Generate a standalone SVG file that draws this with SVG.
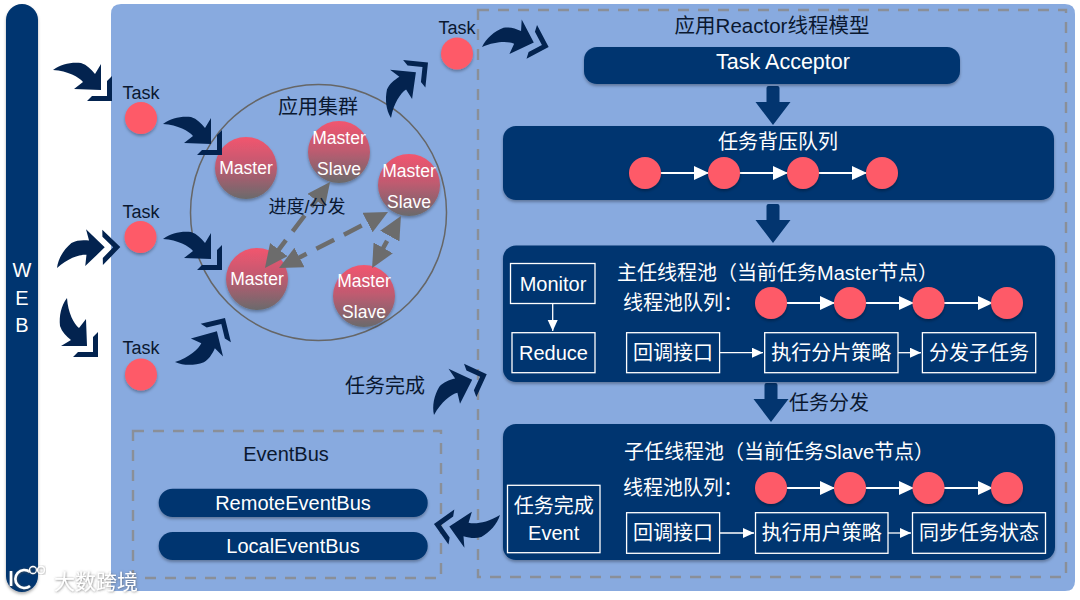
<svg xmlns="http://www.w3.org/2000/svg" width="1080" height="600" viewBox="0 0 1080 600">
<style>
text{font-family:"Liberation Sans","Noto Sans CJK SC",sans-serif;text-anchor:middle;dominant-baseline:central}
.d{fill:#0a1830;font-size:20px}
.w{fill:#fff;font-size:20px}
.t{fill:#0a1830;font-size:18px}
.m{fill:#fff;font-size:17.5px}
.navy{fill:#03356f;filter:url(#sh)}
.box{fill:none;stroke:#fff;stroke-width:1.3}
.dash{fill:none;stroke:#8a8f98;stroke-width:2.4;stroke-dasharray:11 9}
.red{fill:#fe5a68;filter:url(#sh)}
.wl{stroke:#fff;stroke-width:2.2;fill:none;marker-end:url(#wa)}
.wt{stroke:#fff;stroke-width:1.3;fill:none;marker-end:url(#wb)}
.gd{stroke:#6c6c6c;stroke-width:4.5;fill:none;stroke-dasharray:20 11;marker-start:url(#ga);marker-end:url(#ga)}
.node{fill:url(#ng);filter:url(#sh)}
.wm{fill:none;stroke:#fff;stroke-width:2.6;filter:url(#wms)}
</style>
<defs>
<filter id="sh" x="-20%" y="-20%" width="140%" height="140%"><feDropShadow dx="0" dy="2" stdDeviation="1.5" flood-color="#000" flood-opacity="0.3"/></filter>
<filter id="wms" x="-20%" y="-20%" width="140%" height="140%"><feDropShadow dx="0.5" dy="0.5" stdDeviation="0.8" flood-color="#555" flood-opacity="0.8"/></filter>
<linearGradient id="ng" x1="0" y1="0" x2="0" y2="1"><stop offset="0" stop-color="#f2566e"/><stop offset="0.45" stop-color="#c25a70"/><stop offset="1" stop-color="#6a6a6c"/></linearGradient>
<marker id="wa" markerUnits="userSpaceOnUse" markerWidth="16" markerHeight="14" refX="14" refY="7" orient="auto"><path d="M0,0L15,7L0,14Z" fill="#fff"/></marker>
<marker id="wb" markerUnits="userSpaceOnUse" markerWidth="12" markerHeight="12" refX="11" refY="5" orient="auto"><path d="M0,0L11,5L0,10Z" fill="#fff"/></marker>
<marker id="ga" markerUnits="userSpaceOnUse" markerWidth="24" markerHeight="24" refX="12" refY="11" orient="auto-start-reverse"><path d="M0,0L23,11L0,22Z" fill="#6c6c6c"/></marker>
<g id="sw"><path d="M0,0C8,-6 18,-8 28,-7C34,-5 38,-1 42,4L48,-6L48,20L21,19L30,12C26,7 15,1 0,0Z" fill="#03234f"/><path d="M59,6V31H34L39,26H54V11Z" fill="#03234f"/></g>
<path id="dn" d="M-6.500,2Q-6.500,0 -4.500,0H4.500Q6.500,0 6.500,2V16H17.500L0,39L-17.500,16H-6.500Z" fill="#03356f"/>
</defs>
<g id="web"><rect x="6" y="4" width="32" height="588" rx="16" class="navy"/><text x="22" y="270" class="w">W</text><text x="22" y="298" class="w">E</text><text x="22" y="325" class="w">B</text></g>
<path id="panel" d="M121,4H1065Q1075,4 1075,14V581Q1075,591 1065,591H111V14Q111,4 121,4Z" fill="#88aadf"/>
<g id="reactor-frame"><rect x="478" y="10" width="588" height="567" class="dash"/><text x="772" y="25" class="d" style="font-size:20.500px">应用Reactor线程模型</text></g>
<g id="eventbus-frame"><rect x="133" y="431" width="308" height="147" class="dash"/><text x="286" y="454" class="d">EventBus</text></g>
<g id="cluster"><circle cx="318.500" cy="212.500" r="128" fill="none" stroke="#666" stroke-width="1.500"/><text x="318" y="107" class="d">应用集群</text></g>
<g id="task-1"><text x="141" y="93" class="t">Task</text><circle cx="141" cy="118" r="16" class="red"/></g>
<g id="task-2"><text x="141" y="212" class="t">Task</text><circle cx="140.500" cy="237" r="16" class="red"/></g>
<g id="task-3"><text x="141" y="348" class="t">Task</text><circle cx="141" cy="374.500" r="16" class="red"/></g>
<g id="task-4"><text x="457" y="28" class="t">Task</text><circle cx="457" cy="53.500" r="16" class="red"/></g>
<g id="master-1"><circle cx="246" cy="168" r="31" class="node"/><text x="246" y="168" class="m">Master</text></g>
<g id="ms-1"><circle cx="339" cy="152" r="31" class="node"/><text x="339" y="138" class="m">Master</text><text x="339" y="169" class="m">Slave</text></g>
<g id="ms-2"><circle cx="409" cy="185" r="31" class="node"/><text x="409" y="171" class="m">Master</text><text x="409" y="202" class="m">Slave</text></g>
<g id="master-2"><circle cx="257" cy="279" r="31" class="node"/><text x="257" y="279" class="m">Master</text></g>
<g id="ms-3"><circle cx="364" cy="296" r="31" class="node"/><text x="364" y="281" class="m">Master</text><text x="364" y="312" class="m">Slave</text></g>
<g id="connectors">
<use href="#sw" transform="translate(53,70)"/>
<use href="#sw" transform="translate(163,124)"/>
<use href="#sw" transform="translate(163,239)"/>
<use href="#sw" transform="translate(57,268) rotate(-46)"/>
<use href="#sw" transform="matrix(0,1,1,0,67,298)"/>
<use href="#sw" transform="translate(175,362) rotate(-103.700) matrix(0,1,1,0,0,0)"/>
<use href="#sw" transform="translate(391,118) rotate(-84)"/>
<use href="#sw" transform="translate(434,415) rotate(-65.400)"/>
<use href="#sw" transform="translate(500,515) rotate(144.500)"/>
<use href="#sw" transform="translate(482,47) rotate(-27.700)"/>
<use href="#dn" x="773" y="86"/>
<use href="#dn" x="773" y="204"/>
<use href="#dn" x="771" y="383"/>
<line x1="323.400" y1="190.800" x2="271.600" y2="259.200" class="gd"/>
<line x1="288.800" y1="263" x2="378.200" y2="217" class="gd"/>
<line x1="377.400" y1="258.400" x2="395.600" y2="225.600" class="gd"/>
</g>
<text x="307" y="207" class="t">进度/分发</text>
<text x="385" y="386" class="d">任务完成</text>
<g id="task-acceptor"><rect x="584" y="47" width="376" height="37" rx="13" class="navy"/><text x="783" y="62" class="w" style="font-size:21.500px">Task Acceptor</text></g>
<g id="backlog-queue"><rect x="503" y="126" width="551" height="74" rx="13" class="navy"/><text x="778" y="142" class="w">任务背压队列</text>
<line x1="660" y1="173" x2="708" y2="173" class="wl"/><line x1="739" y1="173" x2="787" y2="173" class="wl"/><line x1="818" y1="173" x2="866" y2="173" class="wl"/>
<circle cx="645" cy="173" r="16" class="red"/><circle cx="724" cy="173" r="16" class="red"/><circle cx="803" cy="173" r="16" class="red"/><circle cx="882" cy="173" r="16" class="red"/></g>
<g id="master-pool"><rect x="503" y="245.500" width="552" height="136.500" rx="13" class="navy"/>
<text x="617" y="273" class="w" style="text-anchor:start">主任线程池（当前任务Master节点）</text>
<text x="623" y="303" class="w" style="text-anchor:start">线程池队列：</text>
<line x1="786" y1="303" x2="834" y2="303" class="wl"/><line x1="865" y1="303" x2="913" y2="303" class="wl"/><line x1="944" y1="303" x2="992" y2="303" class="wl"/>
<circle cx="771" cy="303" r="16" class="red"/><circle cx="850" cy="303" r="16" class="red"/><circle cx="928.500" cy="303" r="16" class="red"/><circle cx="1007" cy="303" r="16" class="red"/>
<rect x="510.500" y="263.500" width="84.500" height="40" class="box"/><text x="553" y="283.500" class="w">Monitor</text>
<line x1="552.700" y1="303.500" x2="552.700" y2="331" class="wt"/>
<rect x="512" y="332.700" width="83" height="40" class="box"/><text x="553.500" y="352.700" class="w">Reduce</text>
<rect x="626.600" y="332.700" width="93" height="40" class="box"/><text x="673" y="352.700" class="w">回调接口</text>
<line x1="719.600" y1="352.700" x2="763" y2="352.700" class="wt"/>
<rect x="764.700" y="332.700" width="133.300" height="40" class="box"/><text x="831.300" y="352.700" class="w">执行分片策略</text>
<line x1="898" y1="352.700" x2="921" y2="352.700" class="wt"/>
<rect x="922.400" y="332.700" width="113.300" height="40" class="box"/><text x="979" y="352.700" class="w">分发子任务</text></g>
<text x="829" y="402.700" class="d">任务分发</text>
<g id="slave-pool"><rect x="503" y="424" width="552" height="136" rx="13" class="navy"/>
<text x="624" y="451.700" class="w" style="text-anchor:start">子任线程池（当前任务Slave节点）</text>
<text x="623" y="488" class="w" style="text-anchor:start">线程池队列：</text>
<line x1="786" y1="488" x2="834" y2="488" class="wl"/><line x1="865" y1="488" x2="913" y2="488" class="wl"/><line x1="944" y1="488" x2="992" y2="488" class="wl"/>
<circle cx="771" cy="488" r="16" class="red"/><circle cx="850" cy="488" r="16" class="red"/><circle cx="928.500" cy="488" r="16" class="red"/><circle cx="1007" cy="488" r="16" class="red"/>
<rect x="507.500" y="485.300" width="92.500" height="67.400" class="box"/><text x="553.700" y="506" class="w">任务完成</text><text x="553.700" y="533" class="w">Event</text>
<rect x="626.600" y="512.700" width="93" height="40.600" class="box"/><text x="673" y="533" class="w">回调接口</text>
<line x1="719.600" y1="533" x2="754" y2="533" class="wt"/>
<rect x="755.500" y="512.700" width="132.500" height="40.600" class="box"/><text x="821.700" y="533" class="w">执行用户策略</text>
<line x1="888" y1="533" x2="911" y2="533" class="wt"/>
<rect x="912.500" y="512.700" width="133" height="40.600" class="box"/><text x="979" y="533" class="w">同步任务状态</text></g>
<g id="remote-bus"><rect x="158.700" y="488.700" width="269" height="28.300" rx="14" class="navy"/><text x="293" y="503" class="w">RemoteEventBus</text></g>
<g id="local-bus"><rect x="158.700" y="532" width="269" height="28" rx="14" class="navy"/><text x="293" y="546" class="w">LocalEventBus</text></g>
<g id="watermark"><path d="M11,571V586M30,572A9,9 0 1 0 30,586" class="wm"/><circle cx="33" cy="570" r="3.500" class="wm" style="stroke-width:1.300"/><circle cx="41" cy="570" r="3.500" class="wm" style="stroke-width:1.300"/>
<text x="96" y="581" class="w" style="font-size:21px;filter:url(#wms)">大数跨境</text></g>
</svg>
